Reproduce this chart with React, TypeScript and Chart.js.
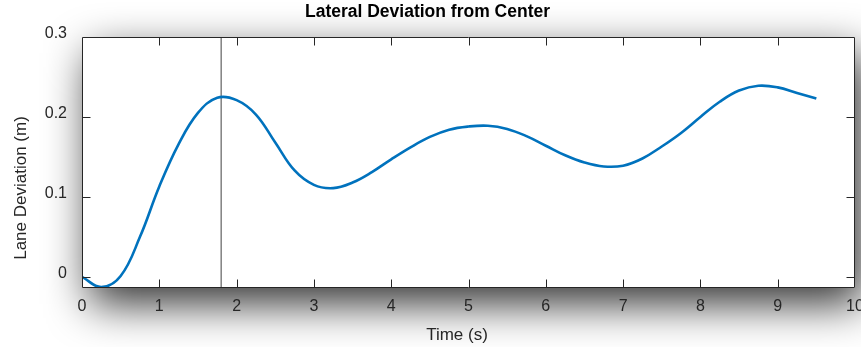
import React, { useEffect, useRef } from "react";
import { Chart, registerables } from "chart.js";

Chart.register(...registerables);

// ---- data ----
const TIME = [
  0, 0.25, 0.5, 0.75, 1.0, 1.25, 1.5, 1.75, 2.0, 2.25, 2.5, 2.75, 3.0, 3.25,
  3.5, 3.75, 4.0, 4.25, 4.5, 4.75, 5.0, 5.25, 5.5, 5.75, 6.0, 6.25, 6.5, 6.75,
  7.0, 7.25, 7.5, 7.75, 8.0, 8.25, 8.5, 8.75, 9.0, 9.25, 9.5,
];
const DEVIATION = [
  0, -0.0128, 0.001, 0.05, 0.113, 0.166, 0.205, 0.224, 0.221, 0.203, 0.168,
  0.133, 0.115, 0.111, 0.118, 0.131, 0.147, 0.162, 0.175, 0.184, 0.188, 0.189,
  0.185, 0.176, 0.164, 0.152, 0.143, 0.138, 0.139, 0.148, 0.163, 0.18, 0.2,
  0.219, 0.233, 0.239, 0.237, 0.23, 0.223,
];
const MARKER_TIME = 1.8;
const X_TICKS = [0, 1, 2, 3, 4, 5, 6, 7, 8, 9, 10];
const Y_TICKS = [0, 0.1, 0.2, 0.3];
const X_MIN = 0;
const X_MAX = 10;
const Y_MIN = -0.014;
const Y_MAX = 0.3;

const TITLE = "Lateral Deviation from Center";
const X_LABEL = "Time (s)";
const Y_LABEL = "Lane Deviation (m)";

const FONT = "'Liberation Sans', Arial, Helvetica, sans-serif";
const TEXT = "#262626";

const shadowPlugin = {
  id: "boxShadow",
  beforeDraw(chart: any) {
    const { ctx, chartArea: a, width, height } = chart;
    const w = a.right - a.left;
    const h = a.bottom - a.top;
    ctx.save();
    ctx.fillStyle = "#ffffff";
    ctx.fillRect(0, 0, width, height);
    ctx.filter = "blur(22px)";
    ctx.fillStyle = "rgba(0,0,0,0.8)";
    ctx.fillRect(a.left + 8, a.top + 16, w, h);
    ctx.filter = "none";
    ctx.fillStyle = "#ffffff";
    ctx.fillRect(a.left, a.top, w, h);
    ctx.restore();
  },
};

const boxPlugin = {
  id: "matlabBox",
  afterDatasetsDraw(chart: any) {
    const { ctx, chartArea: a, scales } = chart;
    const L = Math.round(a.left) + 0.5;
    const R = Math.round(a.right) - 0.5;
    const T = Math.round(a.top) + 0.5;
    const B = Math.round(a.bottom) - 0.5;
    const tl = 8;
    ctx.save();
    ctx.strokeStyle = TEXT;
    ctx.lineWidth = 1;
    ctx.beginPath();
    ctx.rect(L, T, R - L, B - T);
    for (const v of X_TICKS) {
      const x = Math.round(scales.x.getPixelForValue(v)) + 0.5;
      if (x <= L + 1 || x >= R - 1) continue;
      ctx.moveTo(x, B);
      ctx.lineTo(x, B - tl);
      ctx.moveTo(x, T);
      ctx.lineTo(x, T + tl);
    }
    for (const v of Y_TICKS) {
      const y = Math.round(scales.y.getPixelForValue(v)) + 0.5;
      if (y <= T + 1 || y >= B - 1) continue;
      ctx.moveTo(L, y);
      ctx.lineTo(L + tl, y);
      ctx.moveTo(R, y);
      ctx.lineTo(R - tl, y);
    }
    ctx.stroke();
    ctx.restore();
  },
  afterDraw(chart: any) {
    const { ctx } = chart;
    ctx.save();
    ctx.fillStyle = TEXT;
    ctx.font = `17px ${FONT}`;
    ctx.textAlign = "center";
    ctx.textBaseline = "middle";
    ctx.fillText(X_LABEL, 457, 335);
    ctx.translate(21, 188);
    ctx.rotate(-Math.PI / 2);
    ctx.fillText(Y_LABEL, 0, 0);
    ctx.restore();
  },
};

export default function App() {
  const ref = useRef<HTMLCanvasElement | null>(null);

  useEffect(() => {
    if (!ref.current) return;
    const chart = new Chart(ref.current, {
      type: "line",
      data: {
        datasets: [
          {
            label: "deviation",
            data: TIME.map((t, i) => ({ x: t, y: DEVIATION[i] })),
            borderColor: "#0072BD",
            borderWidth: 2.6,
            pointRadius: 0,
            tension: 0.4,
            fill: false,
          },
          {
            label: "marker",
            data: [
              { x: MARKER_TIME, y: Y_MIN },
              { x: MARKER_TIME, y: Y_MAX },
            ],
            borderColor: "#404040",
            borderWidth: 1,
            pointRadius: 0,
            fill: false,
          },
        ],
      },
      options: {
        animation: false,
        responsive: true,
        maintainAspectRatio: false,
        layout: { padding: { left: 0, right: 6, top: 0, bottom: 0 } },
        plugins: {
          legend: { display: false },
          tooltip: { enabled: false },
          title: {
            display: true,
            text: TITLE,
            color: "#000000",
            font: { family: FONT, size: 17.5, weight: "bold", lineHeight: 1.2 },
            padding: { top: 2, bottom: 14 },
          },
        },
        scales: {
          x: {
            type: "linear",
            min: X_MIN,
            max: X_MAX,
            afterBuildTicks: (s: any) => {
              s.ticks = X_TICKS.map((v) => ({ value: v }));
            },
            afterFit: (s: any) => {
              s.height = 59;
              s.paddingLeft = 0;
              s.paddingRight = 0;
            },
            ticks: {
              autoSkip: false,
              maxRotation: 0,
              padding: 9,
              color: TEXT,
              font: { family: FONT, size: 16 },
              callback: (v: any) => String(v),
            },
            grid: { display: false, drawTicks: false },
            border: { display: false },
          },
          y: {
            type: "linear",
            min: Y_MIN,
            max: Y_MAX,
            afterBuildTicks: (s: any) => {
              s.ticks = Y_TICKS.map((v) => ({ value: v }));
            },
            afterFit: (s: any) => {
              s.width = 82;
              s.paddingTop = 0;
              s.paddingBottom = 0;
            },
            ticks: {
              padding: 15,
              labelOffset: -3,
              color: TEXT,
              font: { family: FONT, size: 16 },
              callback: (v: any) => String(Math.round(v * 10) / 10),
            },
            grid: { display: false, drawTicks: false },
            border: { display: false },
          },
        },
      },
      plugins: [shadowPlugin, boxPlugin],
    } as any);
    return () => chart.destroy();
  }, []);

  return (
    <div style={{ position: "fixed", left: 0, top: 0, width: 861, height: 347, background: "#fff" }}>
      <canvas ref={ref} />
    </div>
  );
}
